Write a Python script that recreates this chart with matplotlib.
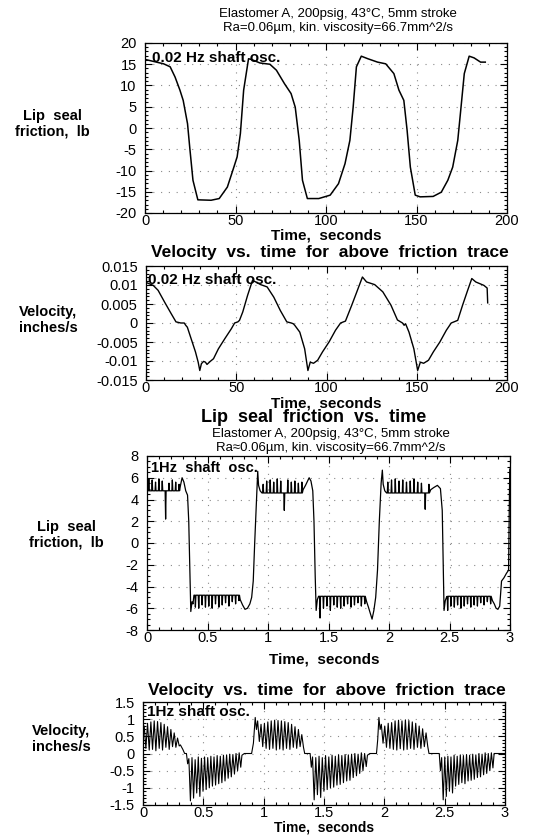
import numpy as np
import matplotlib
matplotlib.use("Agg")
import matplotlib.pyplot as plt
from matplotlib.ticker import MultipleLocator, FixedLocator, FixedFormatter

plt.rcParams['font.family'] = ['Liberation Sans', 'DejaVu Sans']
plt.rcParams['axes.unicode_minus'] = False

W, H = 536, 835

# ---------------- data: 0.02 Hz friction (panel 1) ----------------
slow_fric_t = [0.4, 10.3, 13.9, 16.6, 19.3, 21.1, 23.5, 24.7, 26.5, 29.2, 36.5, 41.0, 45.5, 49.1,
               50.9, 52.7, 54.5, 57.2, 59.0, 63.5, 69.0, 72.6, 77.1, 80.7, 83.0, 85.2, 87.0, 89.7,
               96.0, 102.3, 106.9, 110.5, 113.2, 115.0, 116.8, 119.5, 123.1, 128.5, 133.0, 137.5,
               140.3, 143.0, 144.8, 146.6, 149.3, 152.0, 159.2, 163.7, 167.3, 170.0, 172.8, 174.6,
               176.4, 179.1, 181.8, 185.4, 188.0]
slow_fric_v = [16.1, 15.1, 14.4, 12.0, 8.9, 6.5, 1.0, -4.5, -12.3, -16.9, -17.0, -16.6, -13.9, -9.2,
               -6.8, -1.3, 8.9, 16.3, 16.1, 15.3, 15.0, 13.6, 10.4, 8.1, 4.9, -2.9, -12.3, -16.6,
               -16.6, -15.8, -13.1, -8.4, -2.9, 4.9, 14.4, 16.9, 16.3, 15.5, 15.1, 12.8,
               8.9, 6.5, -0.5, -9.2, -15.8, -16.2, -16.1, -15.1, -12.3, -9.2, -2.9, 4.9,
               12.8, 16.9, 16.5, 15.5, 15.5]

# ---------------- data: 0.02 Hz velocity (panel 2) ----------------
slow_vel_t = [0.4, 4.0, 6.7, 10.3, 13.9, 16.6, 19.3, 21.2, 22.0, 22.9, 25.6, 27.4, 28.9, 29.8, 30.7,
              31.9, 32.9, 33.8, 35.6, 37.4, 40.1, 43.7, 47.3, 49.1, 50.9, 51.8, 53.6, 56.3, 59.0,
              60.8, 63.5, 67.1, 70.8, 74.4, 78.0, 80.5, 81.6, 82.4, 85.2, 87.9, 89.7, 91.0, 92.8,
              95.1, 97.8, 101.4, 105.0, 107.8, 110.5, 114.0, 116.8, 119.9, 122.2, 126.7, 131.2,
              135.7, 139.3, 142.1, 143.0, 143.8, 145.7, 148.4, 150.5, 152.0, 153.8, 156.5, 159.2,
              162.8, 166.4, 169.1, 172.7, 175.4, 178.2, 180.5, 182.7, 187.2, 189.0, 189.3]
slow_vel_v = [0.0106, 0.0099, 0.0086, 0.0055, 0.0025, 0.0003, 0.0, 0.0, -0.0006, -0.0011, -0.005,
              -0.0076, -0.0103, -0.0125, -0.0107, -0.0101, -0.0103, -0.0109, -0.0101, -0.0094,
              -0.0068, -0.0041, -0.0015, 0.0, 0.0003, 0.0007, 0.0029, 0.0073, 0.0112, 0.0108,
              0.0101, 0.0095, 0.0068, 0.0033, 0.0003, 0.0, -0.0002, -0.0006, -0.0024, -0.0068,
              -0.0125, -0.0103, -0.0106, -0.0098, -0.0076, -0.005, -0.0019, 0.0, 0.0005, 0.0047,
              0.0082, 0.0121, 0.0108, 0.0101, 0.0082, 0.0047, 0.0008, 0.0, -0.0006, -0.0002,
              -0.0024, -0.0068, -0.0125, -0.0103, -0.0106, -0.0098, -0.0076, -0.005, -0.0019, 0.0,
              0.0007, 0.0047, 0.0086, 0.0117, 0.0108, 0.0099, 0.0092, 0.0053]

# ---------------- data: 1 Hz friction (panel 3) ----------------
fast_fric_edge_t = [0.000, 0.008, 0.275, 0.290, 0.305, 0.320, 0.335, 0.345, 0.355, 0.362, 0.372,
                    0.380, 0.388, 0.770, 0.790, 0.810, 0.830, 0.850, 0.865, 0.878, 0.890, 0.905,
                    0.915, 0.922, 0.935, 0.950, 1.290, 1.310, 1.340, 1.355, 1.370, 1.380, 1.390,
                    1.398, 1.408, 1.418, 1.815, 1.830, 1.860, 1.875, 1.890, 1.905, 1.920, 1.935,
                    1.945, 1.952, 1.965, 1.980, 2.345, 2.370, 2.400, 2.425, 2.440, 2.448, 2.455,
                    2.465, 2.475, 2.855, 2.870, 2.885, 2.900, 2.915, 2.930, 2.950, 2.970, 2.988,
                    2.998]
fast_fric_edge_v = [5.9, 4.8, 5.2, 6.0, 5.6, 4.8, 4.4, 2.0, -3.0, -6.3, -5.4,
                    -5.6, -4.8, -5.2, -5.7, -6.1, -6.0, -5.6, -5.0, -3.5, 0.0, 4.0,
                    6.6, 5.3, 4.8, 4.6, 4.9, 5.3, 6.0, 5.7, 4.8, 2.0, -3.0,
                    -6.2, -5.2, -4.9, -5.4, -5.9, -7.0, -6.2, -5.0, -2.5, 2.0, 5.5,
                    6.7, 5.4, 4.8, 4.6, 4.9, 5.1, 5.3, 5.0, 3.0, -2.0, -6.2,
                    -5.3, -5.0, -5.3, -5.6, -6.0, -6.1, -5.8, -3.5, -3.2, -2.8, -2.5,
                    6.8]
# plateaus: (start, end, base level, spike tips)
fric_plateaus = [
    (0.015, 0.265, 4.8, [5.9, 5.8, 5.6, 5.9, 5.7, 2.2, 5.5, 5.8, 5.6, 5.4]),
    (0.400, 0.760, -4.8, [-5.9, -6.0, -5.7, -5.9, -5.8, -6.0, -5.6, -5.9, -5.7, -5.5, -5.8, -5.4, -5.6, -5.3]),
    (0.960, 1.280, 4.6, [5.4, 5.7, 5.8, 5.6, 5.9, 5.7, 3.0, 5.8, 5.6, 5.7, 5.5, 5.6]),
    (1.430, 1.800, -4.9, [-6.9, -6.0, -5.8, -6.2, -5.7, -5.9, -6.0, -5.8, -5.6, -5.9, -5.7, -5.5, -5.8, -5.6]),
    (1.990, 2.330, 4.6, [5.6, 5.8, 5.9, 5.7, 5.8, 5.6, 5.7, 5.9, 5.6, 5.5, 3.1, 5.4]),
    (2.485, 2.840, -4.9, [-6.2, -5.8, -5.9, -5.7, -6.0, -5.8, -5.6, -5.9, -5.7, -5.8, -5.5, -5.7, -5.4, -5.6]),
]

# ---------------- data: 1 Hz velocity (panel 4) ----------------
fast_vel_edge_t = [0.000, 0.310, 0.330, 0.345, 0.360, 0.370, 0.820, 0.840, 0.900, 0.915, 0.930,
                   0.940, 1.340, 1.385, 1.395, 1.860, 1.880, 1.935, 1.945, 1.955, 1.965, 2.370,
                   2.455, 2.465, 2.910, 3.000]
fast_vel_edge_v = [0.50, 0.25, 0.12, 0.0, 0.0, -0.3, -0.05, 0.0, 0.0, 0.3, 1.05,
                   0.7, 0.0, 0.0, -0.4, -0.05, 0.0, 0.0, 0.4, 1.05, 0.7, 0.0,
                   0.0, -0.5, 0.0, 0.0]
# oscillating regions: (start, end, upper tips, lower tips)
vel_regions = [
    (0.010, 0.300,
     [0.80, 0.88, 0.92, 0.95, 0.93, 0.90, 0.85, 0.78, 0.70, 0.60, 0.45],
     [0.15, 0.10, 0.12, 0.08, 0.15, 0.10, 0.18, 0.12, 0.20, 0.18, 0.22]),
    (0.380, 0.810,
     [-0.15, -0.12, -0.18, -0.10, -0.14, -0.10, -0.12, -0.08, -0.10, -0.06, -0.08, -0.05, -0.04, -0.02, -0.03, 0.0, 0.02],
     [-1.38, -1.30, -1.15, -1.25, -1.10, -1.05, -1.00, -0.95, -0.92, -0.88, -0.85, -0.80, -0.72, -0.68, -0.60, -0.50, -0.40]),
    (0.950, 1.330,
     [0.95, 0.85, 0.88, 0.92, 0.95, 0.97, 0.96, 0.95, 0.93, 0.90, 0.85, 0.78, 0.70, 0.55],
     [0.35, 0.20, 0.15, 0.12, 0.15, 0.10, 0.13, 0.10, 0.15, 0.12, 0.18, 0.15, 0.20, 0.18]),
    (1.405, 1.850,
     [-0.10, -0.12, -0.08, -0.12, -0.06, -0.10, -0.05, -0.08, -0.04, -0.06, -0.03, -0.04, -0.02, 0.0, -0.02, 0.02, 0.0],
     [-1.35, -1.20, -1.28, -1.10, -1.05, -1.00, -0.98, -0.92, -0.90, -0.85, -0.80, -0.78, -0.70, -0.65, -0.58, -0.50, -0.38]),
    (1.975, 2.360,
     [0.85, 0.80, 0.88, 0.90, 0.95, 0.97, 0.95, 0.98, 0.96, 0.92, 0.88, 0.80, 0.72, 0.60],
     [0.30, 0.18, 0.15, 0.12, 0.10, 0.14, 0.10, 0.12, 0.15, 0.12, 0.18, 0.15, 0.20, 0.20]),
    (2.475, 2.900,
     [-0.12, -0.10, -0.08, -0.10, -0.05, -0.08, -0.04, -0.06, -0.03, -0.05, -0.02, -0.04, 0.0, -0.02, 0.02, 0.0, 0.02],
     [-1.35, -1.25, -1.10, -1.15, -0.95, -0.90, -0.85, -0.88, -0.80, -0.78, -0.75, -0.70, -0.68, -0.62, -0.58, -0.50, -0.42]),
]

# tick labels
p1_yticks = [-20, -15, -10, -5, 0, 5, 10, 15, 20]
p1_ylabels = ['-20', '-15', '-10', '-5', '0', '5', '10', '15', '20']
slow_xticks = [0, 50, 100, 150, 200]
p2_yticks = [-0.015, -0.01, -0.005, 0, 0.005, 0.01, 0.015]
p2_ylabels = ['-0.015', '-0.01', '-0.005', '0', '0.005', '0.01', '0.015']
fast_xticks = [0, 0.5, 1, 1.5, 2, 2.5, 3]
fast_xlabels = ['0', '0.5', '1', '1.5', '2', '2.5', '3']
p3_yticks = [-8, -6, -4, -2, 0, 2, 4, 6, 8]
p3_ylabels = ['-8', '-6', '-4', '-2', '0', '2', '4', '6', '8']
p4_yticks = [-1.5, -1, -0.5, 0, 0.5, 1, 1.5]
p4_ylabels = ['-1.5', '-1', '-0.5', '0', '0.5', '1', '1.5']

subtitle1 = "Elastomer A, 200psig, 43°C, 5mm stroke"
subtitle2 = "Ra=0.06µm, kin. viscosity=66.7mm^2/s"
subtitle2b = "Ra≈0.06µm, kin. viscosity=66.7mm^2/s"

# ---------------- build traces ----------------
def spiky_trace(et, ev, plateaus, hw=0.004):
    pts = list(zip(et, ev))
    for t0, t1, base, tips in plateaus:
        times = np.linspace(t0, t1, len(tips))
        for tt, tip in zip(times, tips):
            pts += [(tt - hw, base), (tt, tip), (tt + hw, base)]
    pts.sort()
    a = np.array(pts)
    return a[:, 0], a[:, 1]

def zigzag_trace(et, ev, regions):
    pts = list(zip(et, ev))
    for t0, t1, up, lo in regions:
        vals = []
        for u, l in zip(up, lo):
            vals += [u, l]
        times = np.linspace(t0, t1, len(vals))
        pts += list(zip(times, vals))
    pts.sort()
    a = np.array(pts)
    return a[:, 0], a[:, 1]

ff_t, ff_v = spiky_trace(fast_fric_edge_t, fast_fric_edge_v, fric_plateaus)
fv_t, fv_v = zigzag_trace(fast_vel_edge_t, fast_vel_edge_v, vel_regions)

# ---------------- figure ----------------
fig = plt.figure(figsize=(W / 100, H / 100), dpi=100)

def add_ax(x0, y0, x1, y1):
    return fig.add_axes([x0 / W, 1 - y1 / H, (x1 - x0) / W, (y1 - y0) / H])

def ftext(x, y, s, **kw):
    fig.text(x / W, 1 - y / H, s, **kw)

TICK_FS = 10.5
GRID = dict(color='#8a8a8a', linestyle=(0, (1, 6)), linewidth=0.8)

def style(ax):
    ax.tick_params(which='both', direction='in', top=True, right=True, labelsize=TICK_FS,
                   width=0.8, colors='black')
    ax.tick_params(which='major', length=5)
    ax.tick_params(axis='x', which='major', pad=1)
    ax.tick_params(axis='y', which='major', pad=6)
    ax.tick_params(which='minor', length=2.5)
    for s in ax.spines.values():
        s.set_linewidth(0.9)
    ax.grid(True, which='major', **GRID)

# Panel 1
ax1 = add_ax(145, 43, 507, 213)
ax1.plot(slow_fric_t, slow_fric_v, color='black', lw=1.1)
ax1.set_xlim(0, 200)
ax1.set_ylim(-20, 20)
ax1.xaxis.set_major_locator(FixedLocator(slow_xticks))
ax1.xaxis.set_minor_locator(MultipleLocator(10))
ax1.yaxis.set_major_locator(FixedLocator(p1_yticks))
ax1.yaxis.set_major_formatter(FixedFormatter(p1_ylabels))
ax1.yaxis.set_minor_locator(MultipleLocator(1))
style(ax1)
ax1.text(0.02, 0.95, "0.02 Hz shaft osc.", transform=ax1.transAxes, fontsize=11,
         fontweight='bold', va='top', ha='left')

# Panel 2
ax2 = add_ax(146, 266, 507, 380)
ax2.plot(slow_vel_t, slow_vel_v, color='black', lw=1.0)
ax2.set_xlim(0, 200)
ax2.set_ylim(-0.015, 0.015)
ax2.xaxis.set_major_locator(FixedLocator(slow_xticks))
ax2.xaxis.set_minor_locator(MultipleLocator(10))
ax2.yaxis.set_major_locator(FixedLocator(p2_yticks))
ax2.yaxis.set_major_formatter(FixedFormatter(p2_ylabels))
ax2.yaxis.set_minor_locator(MultipleLocator(0.001))
style(ax2)
ax2.text(0.005, 0.94, "0.02 Hz shaft osc.", transform=ax2.transAxes, fontsize=11,
         fontweight='bold', va='top', ha='left')

# Panel 3
ax3 = add_ax(147, 456, 510, 630)
ax3.plot(ff_t, ff_v, color='black', lw=0.9)
ax3.set_xlim(0, 3)
ax3.set_ylim(-8, 8)
ax3.xaxis.set_major_locator(FixedLocator(fast_xticks))
ax3.xaxis.set_major_formatter(FixedFormatter(fast_xlabels))
ax3.xaxis.set_minor_locator(MultipleLocator(0.1))
ax3.yaxis.set_major_locator(FixedLocator(p3_yticks))
ax3.yaxis.set_major_formatter(FixedFormatter(p3_ylabels))
ax3.yaxis.set_minor_locator(MultipleLocator(0.5))
style(ax3)
ax3.text(0.01, 0.97, "1Hz  shaft  osc.", transform=ax3.transAxes, fontsize=10.5,
         fontweight='bold', va='top', ha='left')

# Panel 4
ax4 = add_ax(143, 702, 505, 805)
ax4.plot(fv_t, fv_v, color='black', lw=0.8)
ax4.set_xlim(0, 3)
ax4.set_ylim(-1.5, 1.5)
ax4.xaxis.set_major_locator(FixedLocator(fast_xticks))
ax4.xaxis.set_major_formatter(FixedFormatter(fast_xlabels))
ax4.xaxis.set_minor_locator(MultipleLocator(0.1))
ax4.yaxis.set_major_locator(FixedLocator(p4_yticks))
ax4.yaxis.set_major_formatter(FixedFormatter(p4_ylabels))
ax4.yaxis.set_minor_locator(MultipleLocator(0.1))
style(ax4)
ax4.text(0.01, 0.97, "1Hz shaft osc.", transform=ax4.transAxes, fontsize=11,
         fontweight='bold', va='top', ha='left')

# x labels
ftext(326, 236, "Time,  seconds", fontsize=11, fontweight='bold', ha='center', va='center')
ftext(326, 403, "Time,  seconds", fontsize=11, fontweight='bold', ha='center', va='center')
ftext(324, 660, "Time,  seconds", fontsize=11, fontweight='bold', ha='center', va='center')
ftext(324, 834.5, "Time,  seconds", fontsize=10, fontweight='bold', ha='center', va='bottom')

# titles / subtitles
ftext(338, 14, subtitle1, fontsize=9.5, ha='center', va='center')
ftext(338, 28.5, subtitle2, fontsize=9.5, ha='center', va='center')
ftext(330, 253, "Velocity  vs.  time  for  above  friction  trace", fontsize=12.5,
      fontweight='bold', ha='center', va='center')
ftext(314, 417, "Lip  seal  friction  vs.  time", fontsize=13, fontweight='bold',
      ha='center', va='center')
ftext(331, 434.5, subtitle1, fontsize=9.5, ha='center', va='center')
ftext(331, 448, subtitle2b, fontsize=9.5, ha='center', va='center')
ftext(327, 691, "Velocity  vs.  time  for  above  friction  trace", fontsize=12.5,
      fontweight='bold', ha='center', va='center')

# y labels
ylab = dict(fontsize=10.5, fontweight='bold', ha='center', va='center', linespacing=1.1)
ftext(52, 124, "Lip  seal\nfriction,  lb", **ylab)
ftext(48, 320, "Velocity,\ninches/s", **ylab)
ftext(66, 535, "Lip  seal\nfriction,  lb", **ylab)
ftext(61, 739, "Velocity,\ninches/s", **ylab)

fig.savefig("out.png", dpi=100)
